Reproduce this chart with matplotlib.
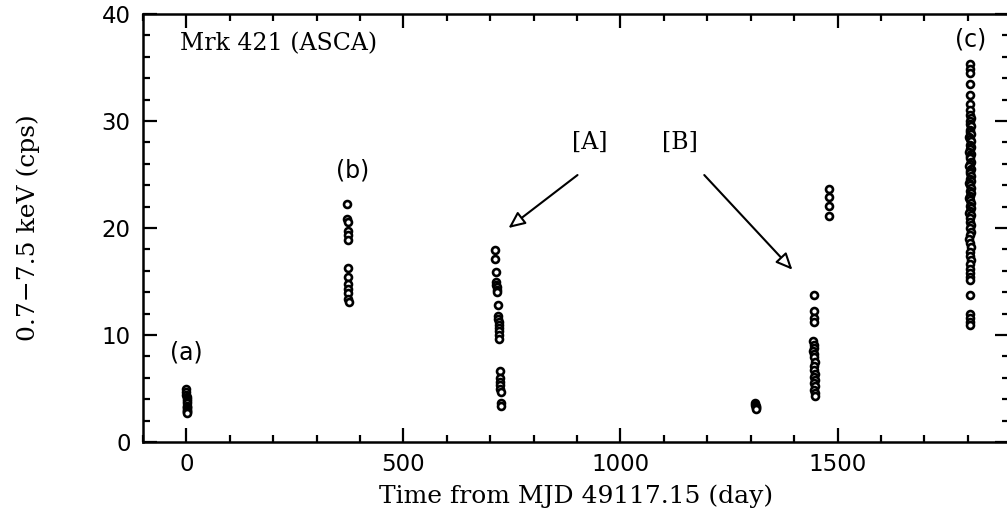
import numpy as np
import matplotlib
matplotlib.use("Agg")
import matplotlib.pyplot as plt
from matplotlib.ticker import MultipleLocator

# observation groups: time (day from MJD 49117.15), rate 0.7-7.5 keV (cps)
t_a = [0.0, 0.1, 0.2, 0.3, 0.4, 0.5, 0.6, 0.7, 0.8, 0.9, 1.0, 1.1, 1.2, 1.3]
r_a = [5.0, 4.7, 4.4, 4.2, 4.0, 3.8, 3.6, 3.4, 3.3, 3.2, 3.0, 2.9, 2.8, 2.7]

t_b = [371, 371, 371.5, 371.5, 372, 372, 372, 372.5, 372.5, 373, 373, 373, 373.5]
r_b = [22.2, 20.8, 20.6, 19.7, 19.3, 18.9, 16.3, 15.4, 14.8, 14.3, 13.9, 13.4, 13.1]

t_A = [712, 712, 713, 714, 714, 715, 715, 716, 717, 718, 718, 719, 719,
       720, 720, 721, 721, 722, 722, 723, 723, 723, 724, 724, 725]
r_A = [17.9, 17.1, 15.9, 15.0, 14.7, 14.5, 14.2, 14.0, 12.8, 11.8, 11.5, 11.2, 10.9,
       10.7, 10.4, 10.0, 9.6, 6.6, 6.0, 5.6, 5.3, 5.0, 4.7, 3.6, 3.4]

t_d = [1311, 1311, 1311.5, 1311.5, 1312, 1312]
r_d = [3.6, 3.5, 3.4, 3.3, 3.2, 3.1]

t_B = [1445, 1445, 1445, 1446, 1444, 1445, 1446, 1444, 1445, 1446, 1447,
       1445, 1446, 1447, 1446, 1447, 1446, 1447, 1446, 1447, 1447]
r_B = [13.7, 12.2, 11.6, 11.2, 9.4, 9.1, 8.8, 8.5, 8.2, 7.9, 7.5,
       7.1, 6.7, 6.4, 6.1, 5.8, 5.5, 5.2, 4.9, 4.6, 4.3]

t_e = [1480, 1480, 1480, 1480]
r_e = [23.6, 22.9, 22.1, 21.1]

t_c = [1806, 1806, 1806, 1806, 1805, 1806, 1805, 1806, 1807, 1805,
       1806, 1807, 1805, 1806, 1808, 1804, 1806, 1807, 1805, 1808,
       1806, 1804, 1807, 1806, 1805, 1808, 1806, 1804, 1807, 1805,
       1806, 1808, 1805, 1807, 1804, 1806, 1808, 1805, 1807, 1806,
       1804, 1806, 1808, 1805, 1807, 1806, 1804, 1807, 1805, 1806,
       1808, 1805, 1807, 1806, 1804, 1806, 1807, 1805, 1806, 1807,
       1805, 1806, 1805, 1806, 1806, 1805, 1805, 1805, 1805, 1805]
r_c = [35.3, 34.9, 34.5, 33.5, 32.4, 31.6, 31.0, 30.6, 30.3, 30.0,
       29.7, 29.5, 29.2, 29.0, 28.8, 28.5, 28.3, 28.1, 27.8, 27.6,
       27.4, 27.1, 26.9, 26.7, 26.5, 26.2, 26.0, 25.8, 25.5, 25.3,
       25.1, 24.9, 24.6, 24.4, 24.2, 24.0, 23.7, 23.5, 23.3, 23.0,
       22.8, 22.6, 22.3, 22.1, 21.9, 21.6, 21.4, 21.2, 20.9, 20.6,
       20.3, 20.0, 19.6, 19.3, 19.0, 18.6, 18.2, 17.8, 17.4, 17.0,
       16.6, 16.2, 15.8, 15.4, 15.1, 13.7, 12.0, 11.6, 11.2, 10.9]

groups = [(t_a, r_a), (t_b, r_b), (t_A, r_A), (t_d, r_d),
          (t_B, r_B), (t_e, r_e), (t_c, r_c)]

serif = "DejaVu Serif"
sans = "DejaVu Sans"

fig = plt.figure(figsize=(10.07, 5.2), dpi=100)
ax = fig.add_axes([143/1007, 78/520, 866/1007, 428/520])

for t, r in groups:
    ax.plot(t, r, linestyle="none", marker="o", markersize=5.0,
            markerfacecolor="white", markeredgecolor="black", markeredgewidth=1.9)

ax.set_xlim(-100, 1895)
ax.set_ylim(0, 40)
ax.xaxis.set_major_locator(MultipleLocator(500))
ax.xaxis.set_minor_locator(MultipleLocator(100))
ax.yaxis.set_major_locator(MultipleLocator(10))
ax.yaxis.set_minor_locator(MultipleLocator(2))
ax.tick_params(which="both", direction="in", top=True, right=True, width=1.6, color="black")
ax.tick_params(which="major", length=10)
ax.tick_params(which="minor", length=5)
ax.tick_params(axis="x", which="major", pad=8)
ax.tick_params(axis="y", which="major", pad=9)
for lab in ax.get_xticklabels() + ax.get_yticklabels():
    lab.set_fontfamily(sans)
    lab.set_fontsize(16.5)
for sp in ax.spines.values():
    sp.set_linewidth(1.8)

ax.set_xlabel("Time from MJD 49117.15 (day)", fontfamily=serif, fontsize=18, labelpad=6)
ax.set_ylabel("0.7\u22127.5 keV (cps)", fontfamily=serif, fontsize=18)
ax.yaxis.set_label_coords(-0.119, 0.5)

ax.text(-14, 37.2, "Mrk 421 (ASCA)", fontfamily=serif, fontsize=17, ha="left", va="center")
ax.text(0, 8.4, "(a)", fontfamily=sans, fontsize=17, ha="center", va="center")
ax.text(382, 25.4, "(b)", fontfamily=sans, fontsize=17, ha="center", va="center")
ax.text(1806, 37.6, "(c)", fontfamily=sans, fontsize=17, ha="center", va="center")
ax.text(930, 28.0, "[A]", fontfamily=serif, fontsize=17, ha="center", va="center")
ax.text(1138, 28.0, "[B]", fontfamily=serif, fontsize=17, ha="center", va="center")

arrow = dict(arrowstyle="-|>,head_length=1.0,head_width=0.45", fc="white", ec="black",
             lw=1.5, shrinkA=0, shrinkB=0)
ax.annotate("", xy=(742, 20.0), xytext=(901, 24.95), arrowprops=arrow)
ax.annotate("", xy=(1396, 16.1), xytext=(1193, 24.95), arrowprops=arrow)

fig.savefig("out.png", dpi=100)
